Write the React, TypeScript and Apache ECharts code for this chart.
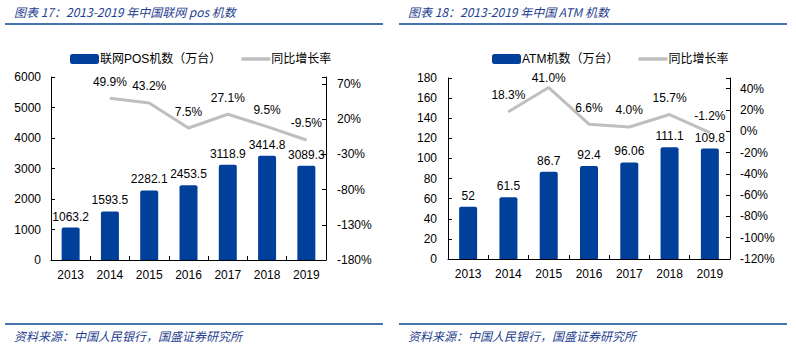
import React, { useEffect, useRef } from "react";
import * as echarts from "echarts";

const years = ["2013", "2014", "2015", "2016", "2017", "2018", "2019"];
const posCount = [1063.2, 1593.5, 2282.1, 2453.5, 3118.9, 3414.8, 3089.3];
const posGrowth = [null, 49.9, 43.2, 7.5, 27.1, 9.5, -9.5];
const atmCount = [52, 61.5, 86.7, 92.4, 96.06, 111.1, 109.8];
const atmGrowth = [null, 18.3, 41.0, 6.6, 4.0, 15.7, -1.2];

const title1 = "图表 17：2013-2019 年中国联网 pos 机数";
const title2 = "图表 18：2013-2019 年中国 ATM 机数";
const sourceText = "资料来源：中国人民银行，国盛证券研究所";
const posBarName = "联网POS机数（万台）";
const atmBarName = "ATM机数（万台）";
const growthName = "同比增长率";

const BLUE = "#00409A";
const GRAY = "#BFBFBF";
const HEAD = "#0B4597";
const TXT = "#1F3F8F";
const FONT = "'Liberation Sans', Arial, 'Noto Sans CJK SC', sans-serif";
const LINE_ICON = "path://M0,0 L29,0 L29,3.5 L0,3.5 Z";

export default function App() {
  const ref = useRef<HTMLDivElement>(null);
  useEffect(() => {
    if (!ref.current) return;
    const chart = echarts.init(ref.current, null, { renderer: "svg" });
    const axisLine = { show: true, lineStyle: { color: "#000", width: 1 } };
    const axisTick = { show: true, inside: true, length: 4, lineStyle: { color: "#000" } };
    const lbl = { color: "#000", fontSize: 12, fontFamily: FONT };
    const xAxisCfg = (gi: number) => ({
      type: "category",
      gridIndex: gi,
      data: years,
      axisLine,
      axisTick: { ...axisTick, alignWithLabel: false },
      axisLabel: { ...lbl, margin: 9 },
    });
    const pct = (p: any) => (p.value == null ? "" : Number(p.value).toFixed(1) + "%");
    // labels that would leave the plot area are kept just inside it, as in the reference
    const fitLabels = (vals: (number | null)[], max: number) =>
      vals.map((v) => (v != null && v >= max ? { value: v, label: { distance: 3 } } : v));
    chart.setOption({
      animation: false,
      textStyle: { fontFamily: FONT },
      grid: [
        { left: 51, right: 470, top: 77, bottom: 90 },
        { left: 448, right: 66, top: 78, bottom: 91 },
      ],
      legend: [
        {
          left: 65,
          top: 48,
          itemWidth: 29,
          itemHeight: 10,
          itemGap: 20,
          textStyle: { ...lbl, padding: [0, 0, 0, -4] },
          data: [{ name: posBarName, icon: "roundRect" }, { name: growthName, icon: LINE_ICON }],
        },
        {
          left: 487,
          top: 48,
          itemWidth: 29,
          itemHeight: 10,
          itemGap: 20,
          textStyle: { ...lbl, padding: [0, 0, 0, -4] },
          data: [{ name: atmBarName, icon: "roundRect" }, { name: growthName + " ", icon: LINE_ICON }],
        },
      ],
      xAxis: [xAxisCfg(0), xAxisCfg(1)],
      yAxis: [
        {
          type: "value", gridIndex: 0, min: 0, max: 6000, interval: 1000,
          axisLine, axisTick, splitLine: { show: false },
          axisLabel: { ...lbl, margin: 10, formatter: (v: number) => String(v) },
        },
        {
          type: "value", gridIndex: 0, min: -180, max: 80, interval: 50, position: "right",
          axisLine, axisTick, splitLine: { show: false },
          axisLabel: { ...lbl, margin: 11, formatter: (v: number) => (v === 80 ? "" : v + "%") },
        },
        {
          type: "value", gridIndex: 1, min: 0, max: 180, interval: 20,
          axisLine, axisTick, splitLine: { show: false },
          axisLabel: { ...lbl, margin: 11, formatter: (v: number) => String(v) },
        },
        {
          type: "value", gridIndex: 1, min: -120, max: 50, interval: 20, position: "right",
          axisLine, axisTick, splitLine: { show: false },
          axisLabel: { ...lbl, margin: 10, formatter: (v: number) => (v === 50 ? "" : v + "%") },
        },
      ],
      series: [
        {
          name: posBarName, type: "bar", xAxisIndex: 0, yAxisIndex: 0, data: posCount,
          barWidth: 18, itemStyle: { color: BLUE, borderRadius: [2, 2, 0, 0] },
          label: { show: true, position: "top", distance: 5, ...lbl },
        },
        {
          name: growthName, type: "line", xAxisIndex: 0, yAxisIndex: 1, data: fitLabels(posGrowth, 60),
          symbol: "circle", symbolSize: 1, showSymbol: true, z: 5,
          lineStyle: { color: GRAY, width: 3 }, itemStyle: { color: GRAY },
          label: { show: true, position: "top", distance: 10, ...lbl, formatter: pct },
        },
        {
          name: atmBarName, type: "bar", xAxisIndex: 1, yAxisIndex: 2, data: atmCount,
          barWidth: 18, itemStyle: { color: BLUE, borderRadius: [2, 2, 0, 0] },
          label: { show: true, position: "top", distance: 5, ...lbl },
        },
        {
          name: growthName + " ", type: "line", xAxisIndex: 1, yAxisIndex: 3, data: fitLabels(atmGrowth, 35),
          symbol: "circle", symbolSize: 1, showSymbol: true, z: 5,
          lineStyle: { color: GRAY, width: 3 }, itemStyle: { color: GRAY },
          label: { show: true, position: "top", distance: 10, ...lbl, formatter: pct },
        },
      ],
      graphic: [
        { type: "text", left: 14, top: 5, style: { text: title1, fill: TXT, font: "italic 12px 'Noto Sans CJK SC', sans-serif" } },
        { type: "text", left: 408, top: 5, style: { text: title2, fill: TXT, font: "italic 12px 'Noto Sans CJK SC', sans-serif" } },
        { type: "line", shape: { x1: 5, y1: 24, x2: 383, y2: 24 }, style: { stroke: HEAD, lineWidth: 1.5 } },
        { type: "line", shape: { x1: 399, y1: 24, x2: 787, y2: 24 }, style: { stroke: HEAD, lineWidth: 1.5 } },
        { type: "line", shape: { x1: 5, y1: 324, x2: 383, y2: 324 }, style: { stroke: HEAD, lineWidth: 1.5 } },
        { type: "line", shape: { x1: 399, y1: 324, x2: 787, y2: 324 }, style: { stroke: HEAD, lineWidth: 1.5 } },
        { type: "text", left: 14, top: 329, style: { text: sourceText, fill: TXT, font: "italic 12px 'Noto Sans CJK SC', sans-serif" } },
        { type: "text", left: 408, top: 329, style: { text: sourceText, fill: TXT, font: "italic 12px 'Noto Sans CJK SC', sans-serif" } },
      ],
    });
    return () => chart.dispose();
  }, []);
  return (
    <div
      ref={ref}
      style={{ position: "fixed", left: 0, top: 0, width: 796, height: 350, background: "#fff" }}
    />
  );
}
